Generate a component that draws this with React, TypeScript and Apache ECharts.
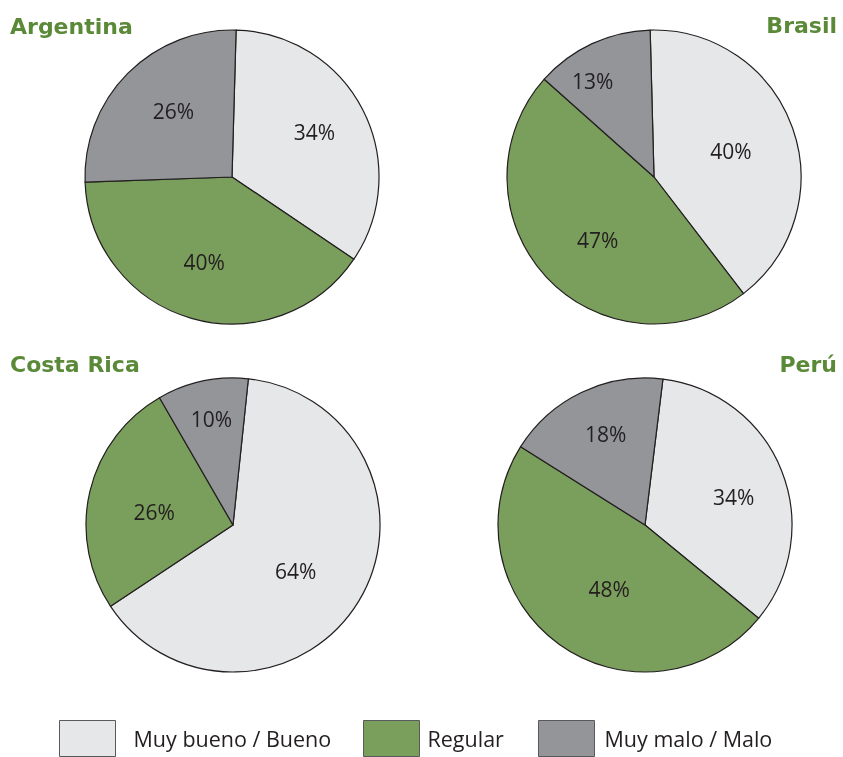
import React, { useEffect, useRef } from "react";
import * as echarts from "echarts";

const categories = ["Muy bueno / Bueno", "Regular", "Muy malo / Malo"];
const countries = ["Argentina", "Brasil", "Costa Rica", "Perú"];
const argentina = [34, 40, 26];
const brasil = [40, 47, 13];
const costaRica = [64, 26, 10];
const peru = [34, 48, 18];
const colors = ["#e6e7e8", "#7a9e5c", "#939598"];

const values = [argentina, brasil, costaRica, peru];

// layout / style settings (not data)
const centers: [number, number][] = [
  [232, 177],
  [654, 177],
  [233, 525],
  [645, 525],
];
const startAngles = [88.4, 91.5, 84, 83];
const R = 147;
const labelNudges: [number, number][][] = [
  [[1, -3.5], [-2.6, -3], [6.4, -1.2]],
  [[-9.4, 4.5], [10.8, 0.8], [-22.7, -12.7]],
  [[-15.7, -1.8], [10.2, 8.2], [-2.6, -16.4]],
  [[3.8, 5.9], [17.8, -9.8], [0, -8.1]],
];
const legendLefts = [59, 363, 538];
const legendTextGaps = [13, 3, 5];

export default function App() {
  const ref = useRef<HTMLDivElement>(null);
  useEffect(() => {
    if (!ref.current) return;
    const chart = echarts.init(ref.current, null, { renderer: "svg" });
    const series: any[] = [];
    values.forEach((vals, i) => {
      const data = vals.map((v, j) => ({
        name: categories[j],
        value: v,
        itemStyle: { color: colors[j] },
      }));
      series.push({
        type: "pie",
        name: countries[i],
        center: centers[i],
        radius: [0, R],
        startAngle: startAngles[i],
        clockwise: true,
        silent: true,
        label: { show: false },
        labelLine: { show: false },
        itemStyle: { borderColor: "#231f20", borderWidth: 1.2 },
        data,
      });
      series.push({
        type: "pie",
        name: countries[i] + " labels",
        center: centers[i],
        radius: [30, R],
        startAngle: startAngles[i],
        clockwise: true,
        silent: true,
        legendHoverLink: false,
        label: {
          show: true,
          position: "inside",
          formatter: "{c}%",
          fontFamily: "Open Sans",
          fontSize: 21,
          color: "#231f20",
        },
        labelLine: { show: false },
        itemStyle: { color: "rgba(0,0,0,0)", borderWidth: 0 },
        data: vals.map((v, j) => ({
          name: categories[j] + " ",
          value: v,
          label: { offset: labelNudges[i][j] },
        })),
      });
    });
    const titleStyle = {
      fontFamily: "DejaVu Sans",
      fontWeight: "bold",
      fontSize: 22,
      color: "#5a8a38",
    };
    chart.setOption({
      animation: false,
      title: [
        { text: countries[0], left: 10, top: 15, textStyle: titleStyle, padding: 0 },
        { text: countries[1], right: 6, top: 14, textStyle: titleStyle, padding: 0 },
        { text: countries[2], left: 10, top: 353, textStyle: titleStyle, padding: 0 },
        { text: countries[3], right: 6, top: 353, textStyle: titleStyle, padding: 0 },
      ],
      legend: categories.map((c, k) => ({
        data: [c],
        left: legendLefts[k],
        top: 720,
        itemWidth: 56,
        itemHeight: 36,
        icon: "rect",
        padding: 0,
        selectedMode: false,
        itemStyle: { borderColor: "#58595b", borderWidth: 1 },
        textStyle: {
          fontFamily: "Open Sans",
          fontSize: 21.5,
          color: "#231f20",
          padding: [16, 0, 0, legendTextGaps[k]],
        },
      })),
      series,
    });
    return () => chart.dispose();
  }, []);
  return (
    <div
      ref={ref}
      style={{ position: "fixed", left: 0, top: 0, width: 843, height: 757 }}
    />
  );
}
